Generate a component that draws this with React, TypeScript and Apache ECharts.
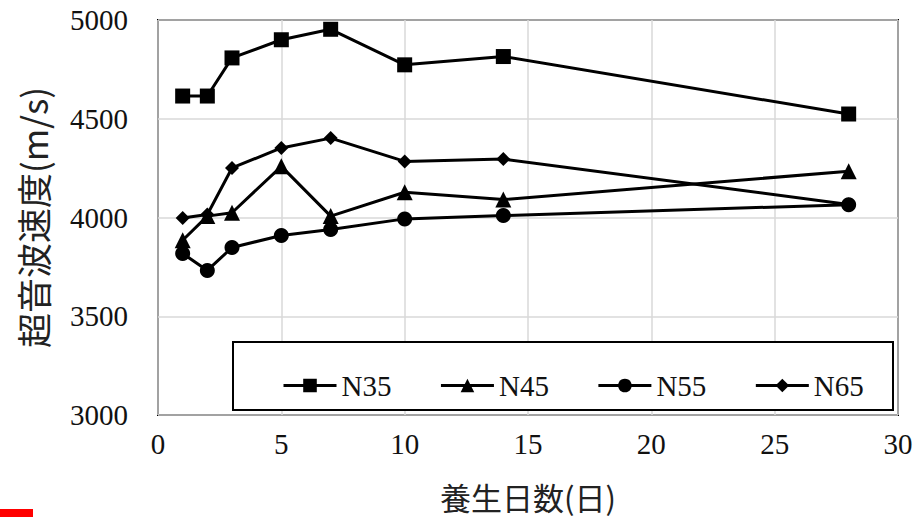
import React, { useEffect, useRef } from "react";
import * as echarts from "echarts";

const days = [1, 2, 3, 5, 7, 10, 14, 28];
const n35 = [4615, 4615, 4808, 4900, 4953, 4773, 4815, 4524];
const n45 = [3885, 4007, 4024, 4259, 4007, 4128, 4091, 4234];
const n55 = [3818, 3732, 3848, 3909, 3939, 3993, 4010, 4065];
const n65 = [3998, 4015, 4251, 4352, 4402, 4284, 4296, 4066];
const seriesNames = ["N35", "N45", "N55", "N65"];
const xTitle = "養生日数(日)";
const yTitle = "超音波速度(m/s)";

const pairs = (vals: number[]) => days.map((d, i) => [d, vals[i]]);

export default function App() {
  const ref = useRef<HTMLDivElement>(null);
  useEffect(() => {
    if (!ref.current) return;
    const chart = echarts.init(ref.current, undefined, { renderer: "svg" });
    const serif = "Liberation Serif";
    const cjk = "Noto Sans CJK JP";
    const symbols = ["rect", "triangle", "circle", "diamond"];
    const sizes = [15, 16, 15, 14];
    const all = [n35, n45, n55, n65];
    chart.setOption({
      animation: false,
      backgroundColor: "#fff",
      grid: {
        left: 158,
        right: 26,
        top: 20,
        bottom: 104,
        show: true,
        borderColor: "#000",
        borderWidth: 2,
        backgroundColor: "transparent",
        containLabel: false,
        outerBoundsMode: "none",
      },
      xAxis: {
        type: "value",
        min: 0,
        max: 30,
        interval: 5,
        name: xTitle,
        nameLocation: "middle",
        nameGap: 66,
        nameTextStyle: { fontFamily: cjk, fontSize: 31, color: "#222" },
        axisLine: { show: false },
        axisTick: { show: false },
        axisLabel: { fontFamily: serif, fontSize: 29, color: "#111", margin: 14 },
        splitLine: { show: true, lineStyle: { color: "#d9d9d9", width: 1.5 } },
      },
      yAxis: {
        type: "value",
        min: 3000,
        max: 5000,
        interval: 500,
        name: yTitle,
        nameLocation: "middle",
        nameGap: 108,
        nameTextStyle: { fontFamily: cjk, fontSize: 35, color: "#222" },
        axisLine: { show: false },
        axisTick: { show: false },
        axisLabel: {
          fontFamily: serif,
          fontSize: 29,
          color: "#111",
          margin: 30,
          formatter: (v: number) => String(v),
        },
        splitLine: { show: true, lineStyle: { color: "#d9d9d9", width: 1.5 } },
      },
      legend: {
        left: 277,
        top: 366,
        itemWidth: 53,
        itemHeight: 17,
        itemGap: 48,
        z: 10,
        lineStyle: { width: 3, color: "#000" },
        textStyle: { fontFamily: serif, fontSize: 29, color: "#111" },
        data: seriesNames,
      },
      graphic: [
        {
          type: "rect",
          z: 5,
          shape: { x: 233, y: 342, width: 660, height: 68 },
          style: { fill: "#fff", stroke: "#000", lineWidth: 2 },
        },
        {
          type: "rect",
          z: 5,
          shape: { x: 0, y: 509, width: 33, height: 8 },
          style: { fill: "#ff0000" },
        },
      ],
      series: all.map((vals, i) => ({
        name: seriesNames[i],
        type: "line",
        data: pairs(vals),
        symbol: symbols[i],
        symbolSize: sizes[i],
        lineStyle: { color: "#000", width: 3 },
        itemStyle: { color: "#000" },
        z: 3,
      })),
    });
    return () => chart.dispose();
  }, []);
  return (
    <div
      ref={ref}
      style={{ position: "absolute", left: 0, top: 0, width: 924, height: 519 }}
    />
  );
}
